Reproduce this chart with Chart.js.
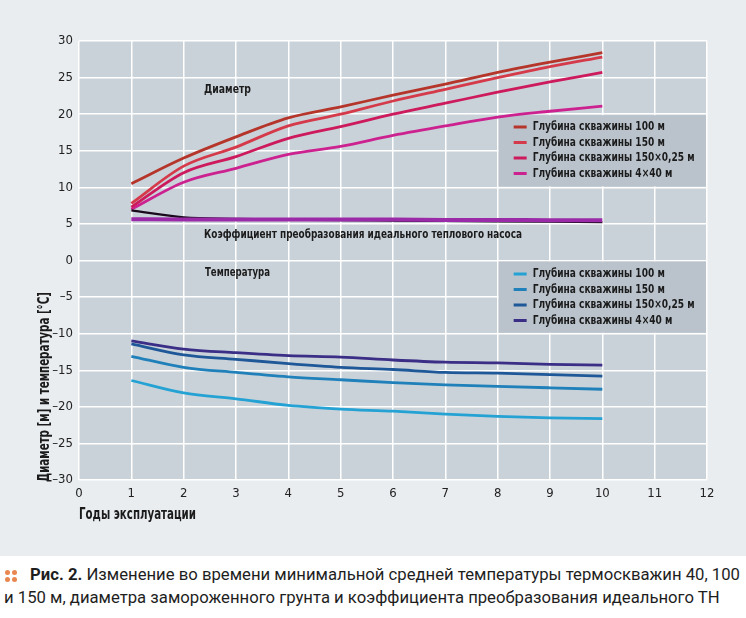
<!DOCTYPE html>
<html lang="ru">
<head>
    <meta charset="UTF-8">
    <title>Рис. 2</title>
    <script src="https://cdn.jsdelivr.net/npm/chart.js"></script>
    <style>
        html, body {
            margin: 0;
            padding: 0;
            background: #ffffff;
            width: 746px;
            height: 618px;
            overflow: hidden;
        }

        .panel {
            position: absolute;
            left: 0;
            top: 0;
            width: 746px;
            height: 556px;
            background: #e9edf0;
        }

        .caption {
            position: absolute;
            left: 0;
            top: 563px;
            width: 746px;
            font-family: Roboto, 'Noto Sans', sans-serif;
            font-size: 17px;
            line-height: 23px;
            color: #1e1e1e;
        }

        .caption .line {
            display: block;
            height: 23px;
        }

        .caption .line span {
            display: inline-block;
            white-space: nowrap;
            transform-origin: left top;
        }

        .caption b {
            font-weight: bold;
        }

        .dots {
            position: absolute;
            left: 5px;
            top: 7px;
            width: 5px;
            height: 5px;
            border-radius: 50%;
            background: #e8874f;
            box-shadow: 7px 0 #e8874f, 0 7px #e8874f, 7px 7px #e8874f;
        }
    </style>
</head>
<body>
    <div class="panel">
        <canvas id="chart" width="746" height="556"></canvas>
    </div>
    <div class="caption">
        <div class="dots"></div>
        <div class="line" style="padding-left:30px"><span id="cap1"><b>Рис. 2.</b> Изменение во времени минимальной средней температуры термоскважин 40, 100</span></div>
        <div class="line" style="padding-left:4px"><span id="cap2">и 150 м, диаметра замороженного грунта и коэффициента преобразования идеального ТН</span></div>
    </div>

    <script>
        // years on the x axis
        const years = [1, 2, 3, 4, 5, 6, 7, 8, 9, 10];

        // frozen ground diameter, m
        const diam100 = [10.5, 14.0, 16.9, 19.5, 21.0, 22.6, 24.1, 25.7, 27.1, 28.4];
        const diam150 = [7.8, 12.9, 15.5, 18.4, 20.0, 21.8, 23.4, 25.0, 26.5, 27.8];
        const diam150x = [7.3, 12.0, 14.2, 16.7, 18.3, 20.0, 21.5, 23.0, 24.4, 25.7];
        const diam4x40 = [7.0, 10.7, 12.6, 14.5, 15.6, 17.1, 18.4, 19.6, 20.4, 21.1];

        // COP of ideal heat pump
        const copBlack = [6.85, 5.9, 5.7, 5.6, 5.5, 5.45, 5.4, 5.35, 5.3, 5.25];
        const copPurple = [5.65, 5.6, 5.6, 5.6, 5.6, 5.6, 5.55, 5.55, 5.5, 5.5];

        // minimum mean temperature, °C
        const temp100 = [-16.4, -18.1, -18.9, -19.8, -20.3, -20.6, -21.0, -21.3, -21.5, -21.6];
        const temp150 = [-13.1, -14.6, -15.3, -15.9, -16.3, -16.7, -17.0, -17.2, -17.4, -17.6];
        const temp150x = [-11.4, -12.9, -13.5, -14.1, -14.6, -14.9, -15.3, -15.4, -15.6, -15.8];
        const temp4x40 = [-11.0, -12.1, -12.6, -13.0, -13.2, -13.6, -13.9, -14.0, -14.2, -14.3];

        const diamLabels = ['Глубина скважины 100 м', 'Глубина скважины 150 м', 'Глубина скважины 150×0,25 м', 'Глубина скважины 4×40 м'];
        const tempLabels = ['Глубина скважины 100 м', 'Глубина скважины 150 м', 'Глубина скважины 150×0,25 м', 'Глубина скважины 4×40 м'];

        const diamColors = ['#b5352a', '#d53a4a', '#cc1a5c', '#cc2290'];
        const tempColors = ['#24a2d4', '#1f80ba', '#1f5898', '#3a2e86'];

        const condensed = "'DejaVu Sans Condensed', 'DejaVu Sans', sans-serif";

        // squeeze caption lines to the width they take in the figure
        const cap1 = document.getElementById('cap1');
        const cap2 = document.getElementById('cap2');
        const capScale = 710 / cap1.getBoundingClientRect().width;
        cap1.style.transform = 'scaleX(' + capScale + ')';
        cap2.style.transform = 'scaleX(' + capScale + ')';

        function pts(arr) {
            return years.map((x, i) => ({ x: x, y: arr[i] }));
        }

        function line(label, arr, color, width) {
            return {
                label: label,
                data: pts(arr),
                borderColor: color,
                borderWidth: width || 2.8,
                pointRadius: 0,
                fill: false,
                cubicInterpolationMode: 'monotone'
            };
        }

        // draw text squeezed to a given width
        function fitText(ctx, text, x, y, w, scale) {
            const real = ctx.measureText(text).width;
            const s = scale || (w / real);
            ctx.save();
            ctx.translate(x, y);
            ctx.scale(s, 1);
            ctx.fillText(text, 0, 0);
            ctx.restore();
            return s;
        }

        const decor = {
            id: 'decor',
            beforeDraw(chart) {
                const { ctx, chartArea: a } = chart;
                ctx.save();
                ctx.fillStyle = '#cad2d9';
                ctx.fillRect(a.left, a.top, a.right - a.left, a.bottom - a.top);
                ctx.restore();
            },
            beforeDatasetsDraw(chart) {
                const { ctx, scales: { x, y } } = chart;
                ctx.save();
                ctx.fillStyle = '#bac3cc';
                [[20, 10], [0, -10]].forEach(([t, b]) => {
                    const x0 = x.getPixelForValue(8) + 1;
                    const x1 = x.getPixelForValue(12) - 1;
                    const y0 = y.getPixelForValue(t) + 1;
                    const y1 = y.getPixelForValue(b) - 1;
                    ctx.fillRect(x0, y0, x1 - x0, y1 - y0);
                });
                ctx.restore();
            },
            afterDraw(chart) {
                const { ctx, scales: { x, y } } = chart;
                ctx.save();
                ctx.fillStyle = '#1b1b1b';
                ctx.textBaseline = 'middle';

                // legends
                ctx.font = 'bold 13px ' + condensed;
                const s = 162 / ctx.measureText(diamLabels[2]).width;
                const lx = x.getPixelForValue(8);
                const entry = (t, color, yy) => {
                    ctx.strokeStyle = color;
                    ctx.lineWidth = 3;
                    ctx.beginPath();
                    ctx.moveTo(lx + 16, yy);
                    ctx.lineTo(lx + 29, yy);
                    ctx.stroke();
                    fitText(ctx, t, lx + 35, yy, 0, s);
                };
                diamLabels.forEach((t, i) => entry(t, diamColors[i], 127 + i * 15.5));
                tempLabels.forEach((t, i) => entry(t, tempColors[i], 274 + i * 15.5));

                // annotations
                ctx.font = 'bold 12px ' + condensed;
                fitText(ctx, 'Диаметр', 204, 90, 47);
                fitText(ctx, 'Коэффициент преобразования идеального теплового насоса', 204, 235, 318);
                fitText(ctx, 'Температура', 205, 273, 65);

                // axis titles
                ctx.font = 'bold 15px ' + condensed;
                fitText(ctx, 'Годы эксплуатации', 79, 515, 117);
                ctx.save();
                ctx.translate(45, 482);
                ctx.rotate(-Math.PI / 2);
                fitText(ctx, 'Диаметр [м] и температура [°C]', 0, 0, 190);
                ctx.restore();

                ctx.restore();
            }
        };

        const gridOpts = {
            color: '#ffffff',
            lineWidth: 1.5,
            drawTicks: false
        };

        new Chart(document.getElementById('chart'), {
            type: 'line',
            data: {
                datasets: [
                    line('Коэффициент', copPurple, '#9a2aa8', 4),
                    line('Коэффициент 2', copBlack, '#1a0a1c', 2.2),
                    line(diamLabels[0], diam100, diamColors[0]),
                    line(diamLabels[1], diam150, diamColors[1]),
                    line(diamLabels[2], diam150x, diamColors[2]),
                    line(diamLabels[3], diam4x40, diamColors[3]),
                    line(tempLabels[0], temp100, tempColors[0]),
                    line(tempLabels[1], temp150, tempColors[1]),
                    line(tempLabels[2], temp150x, tempColors[2]),
                    line(tempLabels[3], temp4x40, tempColors[3])
                ]
            },
            options: {
                responsive: false,
                animation: false,
                devicePixelRatio: 1,
                layout: { padding: { top: 41, right: 39, left: 0, bottom: 0 } },
                plugins: {
                    legend: { display: false },
                    tooltip: { enabled: false }
                },
                scales: {
                    x: {
                        type: 'linear',
                        min: 0,
                        max: 12,
                        grid: gridOpts,
                        border: { display: false },
                        ticks: {
                            stepSize: 1,
                            padding: 6,
                            color: '#222',
                            font: { family: condensed, size: 13 }
                        },
                        afterFit(scale) { scale.height = 76; }
                    },
                    y: {
                        min: -30,
                        max: 30,
                        grid: gridOpts,
                        border: { display: false },
                        ticks: {
                            stepSize: 5,
                            padding: 6,
                            color: '#222',
                            font: { family: condensed, size: 13 },
                            callback: v => String(v).replace('-', '\u2013')
                        },
                        afterFit(scale) { scale.width = 79; }
                    }
                }
            },
            plugins: [decor]
        });
    </script>
</body>
</html>
